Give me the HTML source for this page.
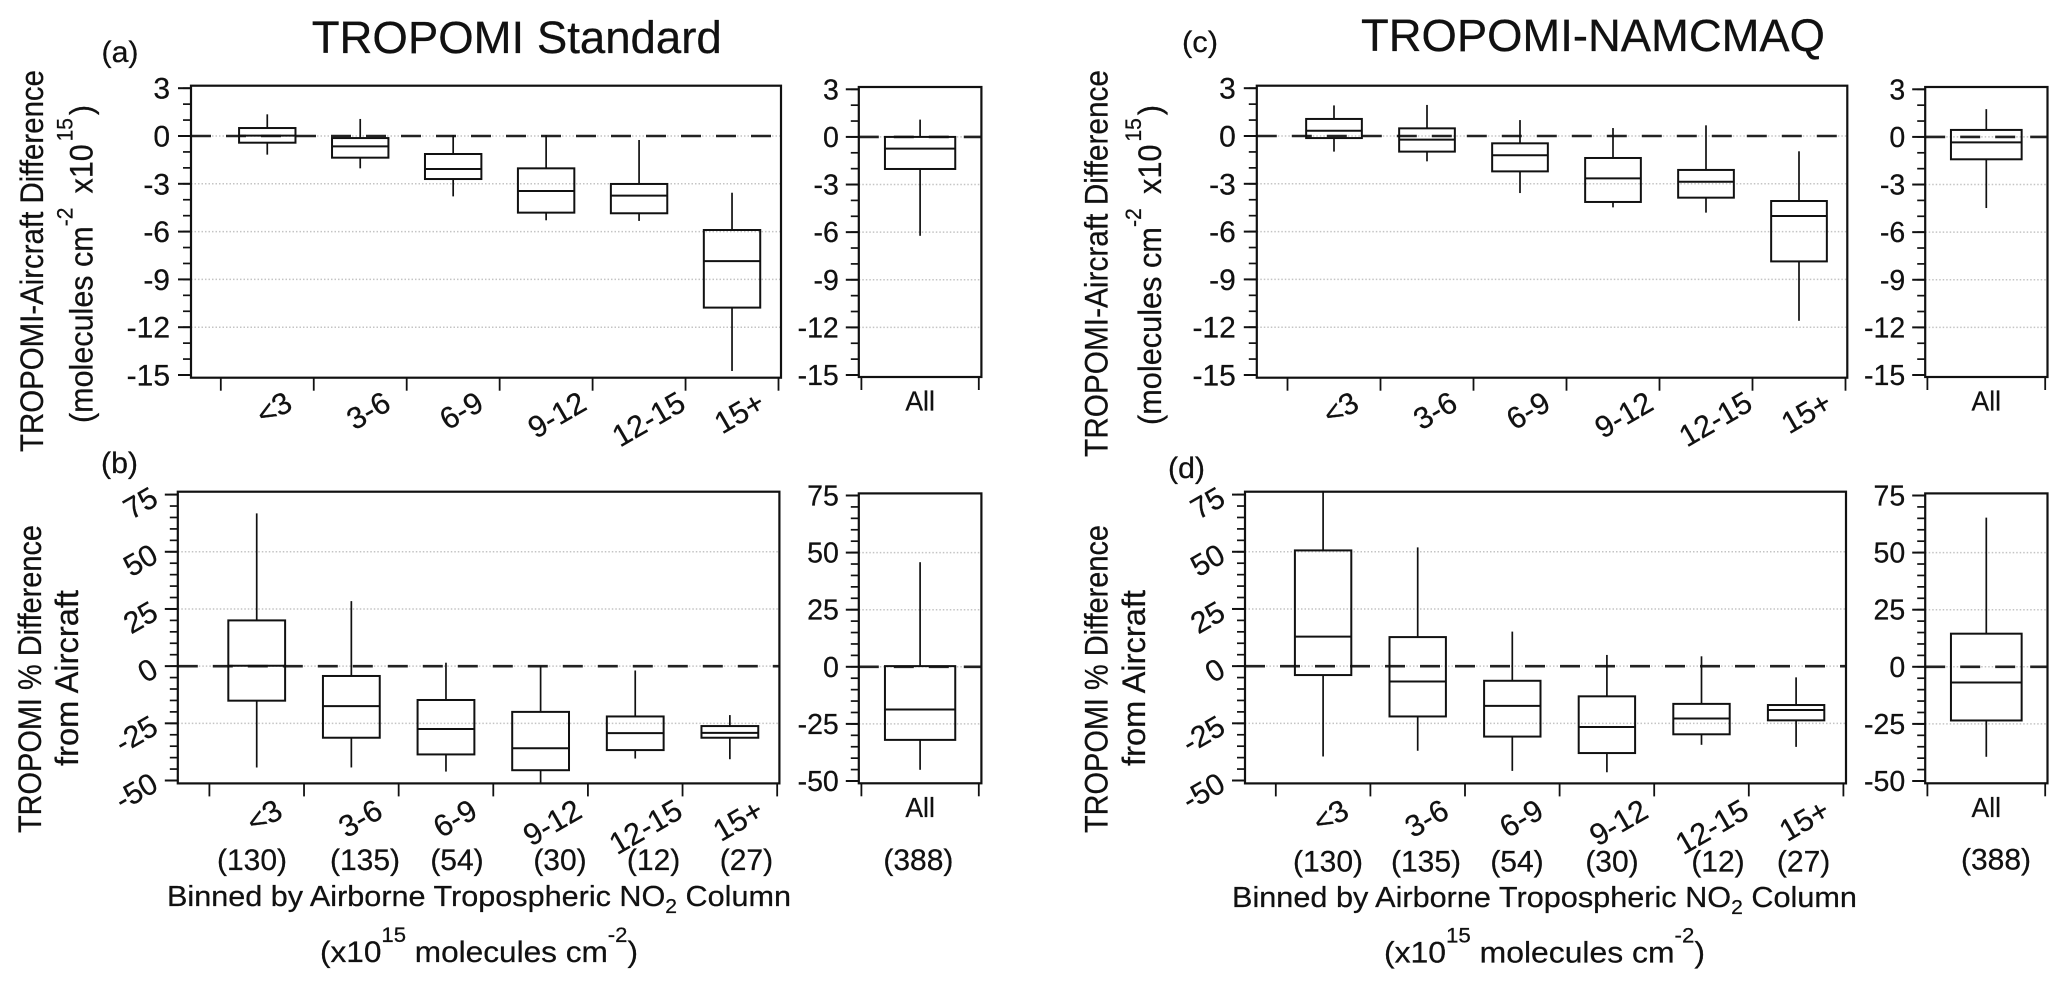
<!DOCTYPE html>
<html lang="en">
<head>
<meta charset="utf-8">
<title>TROPOMI Standard vs TROPOMI-NAMCMAQ box plots</title>
<style>
html,body{margin:0;padding:0;background:#fff;}
svg{display:block;font-family:"Liberation Sans",sans-serif;fill:#111;}
text{stroke:#111;stroke-width:.25px;}
</style>
</head>
<body>
<svg id="chart" xmlns="http://www.w3.org/2000/svg" width="2067" height="986" viewBox="0 0 2067 986">
<rect width="2067" height="986" fill="#fff"/>

<text x="311.7" y="53" font-size="45.5" textLength="410" lengthAdjust="spacingAndGlyphs">TROPOMI Standard</text>
<text x="1361" y="51" font-size="45.5" textLength="464" lengthAdjust="spacingAndGlyphs">TROPOMI-NAMCMAQ</text>

<text x="101.5" y="62" font-size="30" textLength="37" lengthAdjust="spacingAndGlyphs">(a)</text>
<text x="101" y="473" font-size="30" textLength="37" lengthAdjust="spacingAndGlyphs">(b)</text>
<text x="1182" y="52" font-size="30" textLength="36" lengthAdjust="spacingAndGlyphs">(c)</text>
<text x="1168" y="478" font-size="30" textLength="37" lengthAdjust="spacingAndGlyphs">(d)</text>

<text transform="translate(43,452) rotate(-90)" font-size="32" textLength="382" lengthAdjust="spacingAndGlyphs">TROPOMI-Aircraft Difference</text>
<text transform="translate(92.7,423) rotate(-90)" font-size="32" textLength="318" lengthAdjust="spacingAndGlyphs">(molecules cm<tspan dy="-20" font-size="22">-2</tspan><tspan dy="20" dx="6"> x10</tspan><tspan dy="-20" font-size="22" dx="3">15</tspan><tspan dy="20" dx="3">)</tspan></text>
<text transform="translate(41,833) rotate(-90)" font-size="32" textLength="308" lengthAdjust="spacingAndGlyphs">TROPOMI % Difference</text>
<text transform="translate(78,766) rotate(-90)" font-size="32" textLength="176" lengthAdjust="spacingAndGlyphs">from Aircraft</text>

<text transform="translate(1107.5,457) rotate(-90)" font-size="32" textLength="387" lengthAdjust="spacingAndGlyphs">TROPOMI-Aircraft Difference</text>
<text transform="translate(1161,425) rotate(-90)" font-size="32" textLength="320" lengthAdjust="spacingAndGlyphs">(molecules cm<tspan dy="-20" font-size="22">-2</tspan><tspan dy="20" dx="6"> x10</tspan><tspan dy="-20" font-size="22" dx="3">15</tspan><tspan dy="20" dx="3">)</tspan></text>
<text transform="translate(1107.5,833) rotate(-90)" font-size="32" textLength="308" lengthAdjust="spacingAndGlyphs">TROPOMI % Difference</text>
<text transform="translate(1144.8,766) rotate(-90)" font-size="32" textLength="176" lengthAdjust="spacingAndGlyphs">from Aircraft</text>

<g font-size="30" text-anchor="middle">
<text x="252" y="870">(130)</text>
<text x="365" y="870">(135)</text>
<text x="457" y="870">(54)</text>
<text x="560" y="870">(30)</text>
<text x="653.6" y="870">(12)</text>
<text x="746.4" y="870">(27)</text>
<text x="918.4" y="870">(388)</text>
<text x="1328" y="871.5">(130)</text>
<text x="1426" y="871.5">(135)</text>
<text x="1517" y="871.5">(54)</text>
<text x="1612" y="871.5">(30)</text>
<text x="1718" y="871.5">(12)</text>
<text x="1803.6" y="871.5">(27)</text>
<text x="1996" y="869.5">(388)</text>
</g>

<text x="167" y="906" font-size="29" textLength="624" lengthAdjust="spacingAndGlyphs">Binned by Airborne Tropospheric NO<tspan dy="7" font-size="20">2</tspan><tspan dy="-7"> Column</tspan></text>
<text x="320" y="962" font-size="30" textLength="318" lengthAdjust="spacingAndGlyphs">(x10<tspan dy="-20" font-size="21">15</tspan><tspan dy="20"> molecules cm</tspan><tspan dy="-20" font-size="21">-2</tspan><tspan dy="20">)</tspan></text>
<text x="1232" y="907" font-size="29" textLength="625" lengthAdjust="spacingAndGlyphs">Binned by Airborne Tropospheric NO<tspan dy="7" font-size="20">2</tspan><tspan dy="-7"> Column</tspan></text>
<text x="1384" y="962.5" font-size="30" textLength="321" lengthAdjust="spacingAndGlyphs">(x10<tspan dy="-20" font-size="21">15</tspan><tspan dy="20"> molecules cm</tspan><tspan dy="-20" font-size="21">-2</tspan><tspan dy="20">)</tspan></text>
</svg>

<script>
// ---- shared categories and tick labels ----
const binCategories = ['<3', '3-6', '6-9', '9-12', '12-15', '15+'];
const allCategory = ['All'];
const diffTicks = [3, 0, -3, -6, -9, -12, -15];
const pctTicks = [75, 50, 25, 0, -25, -50];

// ---- panel (a): TROPOMI Standard, absolute difference ----
const aHigh = [1.36, 1.07, 0.06, 0.06, -0.25, -3.56];
const aQ3 = [0.5, -0.13, -1.13, -2.03, -3.01, -5.9];
const aMedian = [0.02, -0.65, -2.07, -3.45, -3.74, -7.85];
const aQ1 = [-0.42, -1.36, -2.7, -4.81, -4.85, -10.77];
const aLow = [-1.17, -2.03, -3.79, -5.29, -5.33, -14.75];
const aAllHigh = [1.09];
const aAllQ3 = [0];
const aAllMedian = [-0.74];
const aAllQ1 = [-2.02];
const aAllLow = [-6.23];

// ---- panel (b): TROPOMI Standard, percent difference ----
const bHigh = [66.8, 28.4, 1.5, 0, -1.9, -21.4];
const bQ3 = [20, -4.3, -14.8, -20, -22, -26.2];
const bMedian = [0.15, -17.5, -27.5, -35.9, -29.3, -29.2];
const bQ1 = [-15.1, -31.3, -38.6, -45.5, -36.7, -31.3];
const bLow = [-44.3, -44.3, -46.1, -51.2, -40.4, -40.7];
const bAllHigh = [45.8];
const bAllQ3 = [0.3];
const bAllMedian = [-18.7];
const bAllQ1 = [-32];
const bAllLow = [-45.1];

// ---- panel (c): TROPOMI-NAMCMAQ, absolute difference ----
const cHigh = [1.92, 1.95, 1.0, 0.5, 0.67, -0.96];
const cQ3 = [1.07, 0.48, -0.46, -1.38, -2.13, -4.08];
const cMedian = [0.33, -0.23, -1.21, -2.66, -2.87, -5.02];
const cQ1 = [-0.13, -0.98, -2.22, -4.14, -3.87, -7.87];
const cLow = [-0.98, -1.59, -3.58, -4.48, -4.81, -11.6];
const cAllHigh = [1.75];
const cAllQ3 = [0.44];
const cAllMedian = [-0.34];
const cAllQ1 = [-1.41];
const cAllLow = [-4.48];

// ---- panel (d): TROPOMI-NAMCMAQ, percent difference ----
const dHigh = [76.6, 51.9, 15.1, 4.9, 4.3, -4.9];
const dQ3 = [50.6, 12.7, -6.4, -13.2, -16.5, -17];
const dMedian = [12.9, -6.7, -17.4, -26.6, -22.9, -19.2];
const dQ1 = [-3.9, -22, -30.8, -38, -29.8, -23.7];
const dLow = [-39.5, -37, -45.8, -46.4, -34.4, -35.3];
const dAllHigh = [65.3];
const dAllQ3 = [14.5];
const dAllMedian = [-6.9];
const dAllQ1 = [-23.5];
const dAllLow = [-39.4];

const svg = document.getElementById('chart');
const NS = 'http://www.w3.org/2000/svg';
const INK = '#111';

function make(tag, attrs, parent) {
  const el = document.createElementNS(NS, tag);
  for (const k in attrs) el.setAttribute(k, attrs[k]);
  parent.appendChild(el);
  return el;
}
function line(x1, y1, x2, y2, width, parent, extra) {
  const attrs = { x1: x1, y1: y1, x2: x2, y2: y2, stroke: INK, 'stroke-width': width };
  if (extra) for (const k in extra) attrs[k] = extra[k];
  return make('line', attrs, parent);
}

// geometry: frame box, y axis calibration, x band calibration, label styling
function drawPanel(p, stats) {
  const g = make('g', {}, svg);
  
  

  const ticks = p.ticks;
  const yMax = ticks[0];
  const yMin = ticks[ticks.length - 1];
  const yScale = function (v) { return p.yTop + (yMax - v) * (p.yBottom - p.yTop) / (yMax - yMin); };
  const xBand = function (i) { return p.xFirst + i * p.xStep; };
  const xCenter = function (i) { return xBand(i) + p.xStep / 2; };

  // gridlines
  ticks.forEach(function (t) {
    if (t === yMax || t === yMin) return;
    const gl = line(p.left, yScale(t), p.right, yScale(t), 1.5, g, { stroke: '#c4c4c4', 'stroke-dasharray': '1.5 2' });
    
    
  });

  // zero reference line
  const zero = line(p.left, yScale(0), p.right, yScale(0), 2.6, g, { 'stroke-dasharray': '20 15', stroke: '#222' });
  
  

  // frame
  const frame = make('rect', { x: p.left, y: p.top, width: p.right - p.left, height: p.bottom - p.top, fill: 'none', stroke: INK, 'stroke-width': 2.2 }, g);
  
  

  // minor y ticks
  for (let v = yMax; v >= yMin; v -= p.minorStep) {
    const mt = line(p.left - 8, yScale(v), p.left, yScale(v), 1.7, g);
    
    
  }

  // major y ticks and labels
  ticks.forEach(function (t) {
    const y = yScale(t);
    const tk = line(p.left - 13, y, p.left, y, 2, g);
    
    
    const lx = p.left - p.yLabelGap;
    const attrs = { x: lx, y: y + p.yLabelDrop, 'font-size': p.yFont, 'text-anchor': 'end' };
    if (p.yRotate) attrs.transform = 'rotate(' + (-p.yRotate) + ' ' + lx + ' ' + (y + p.yLabelDrop) + ')';
    const lb = make('text', attrs, g);
    lb.textContent = String(t);
    
    
  });

  // x ticks
  for (let i = 0; i <= p.categories.length; i++) {
    const xt = line(xBand(i), p.bottom, xBand(i), p.bottom + 13, 1.8, g);
    
    
  }

  // boxes
  p.categories.forEach(function (cat, i) {
    const cx = xCenter(i);
    const hw = p.boxWidth / 2;
    const bg = make('g', {}, g);
    
    
    line(cx, yScale(stats.high[i]), cx, yScale(stats.q3[i]), 1.7, bg);
    line(cx, yScale(stats.q1[i]), cx, yScale(stats.low[i]), 1.7, bg);
    make('rect', {
      x: cx - hw, y: yScale(stats.q3[i]), width: p.boxWidth,
      height: yScale(stats.q1[i]) - yScale(stats.q3[i]),
      fill: 'none', stroke: INK, 'stroke-width': 2
    }, bg);
    line(cx - hw, yScale(stats.median[i]), cx + hw, yScale(stats.median[i]), 2, bg);
  });

  // x labels
  const nudge = [-19.5, -14, -14, -4, 2, -11.5];
  p.categories.forEach(function (cat, i) {
    let attrs;
    if (p.categories.length > 1) {
      const lx = xBand(i + 1) + nudge[i];
      const ly = p.bottom + p.xLabelDrop;
      attrs = { x: lx, y: ly, 'font-size': 30.5, 'text-anchor': 'end', transform: 'rotate(-30 ' + lx + ' ' + ly + ')' };
    } else {
      attrs = { x: xCenter(i), y: p.bottom + 33.5, 'font-size': 28, 'text-anchor': 'middle', textLength: 29.5, lengthAdjust: 'spacingAndGlyphs' };
    }
    const lb = make('text', attrs, g);
    lb.textContent = cat;
    
    
  });
}

// main + "All" panels
drawPanel({ id: 'panel-a', categories: binCategories, ticks: diffTicks, minorStep: 1, left: 191, right: 781, top: 85.7, bottom: 377.7, yTop: 88.2, yBottom: 375, xFirst: 220.8, xStep: 92.95, boxWidth: 56.4, yFont: 30, yLabelGap: 21, yLabelDrop: 10.5, yRotate: 0, xLabelDrop: 31 },
  { high: aHigh, q3: aQ3, median: aMedian, q1: aQ1, low: aLow });
drawPanel({ id: 'panel-a-all', categories: allCategory, ticks: diffTicks, minorStep: 1, left: 858.8, right: 981.4, top: 87, bottom: 377, yTop: 89.3, yBottom: 375, xFirst: 861.4, xStep: 117.4, boxWidth: 70.3, yFont: 28.5, yLabelGap: 20, yLabelDrop: 10, yRotate: 0, xLabelDrop: 33 },
  { high: aAllHigh, q3: aAllQ3, median: aAllMedian, q1: aAllQ1, low: aAllLow });

drawPanel({ id: 'panel-b', categories: binCategories, ticks: pctTicks, minorStep: 5, left: 177.8, right: 779.4, top: 491.7, bottom: 783.4, yTop: 494.6, yBottom: 780.5, xFirst: 209.4, xStep: 94.63, boxWidth: 56.8, yFont: 30, yLabelGap: 17.8, yLabelDrop: 9, yRotate: 30, xLabelDrop: 33 },
  { high: bHigh, q3: bQ3, median: bMedian, q1: bQ1, low: bLow });
drawPanel({ id: 'panel-b-all', categories: allCategory, ticks: pctTicks, minorStep: 5, left: 858.8, right: 981.4, top: 493.4, bottom: 783.3, yTop: 495.5, yBottom: 781, xFirst: 861.4, xStep: 117.4, boxWidth: 70.3, yFont: 28.5, yLabelGap: 20, yLabelDrop: 10, yRotate: 0, xLabelDrop: 33 },
  { high: bAllHigh, q3: bAllQ3, median: bAllMedian, q1: bAllQ1, low: bAllLow });

drawPanel({ id: 'panel-c', categories: binCategories, ticks: diffTicks, minorStep: 1, left: 1256.8, right: 1847.3, top: 85.7, bottom: 377.7, yTop: 88.2, yBottom: 375, xFirst: 1287.5, xStep: 93, boxWidth: 55.7, yFont: 30, yLabelGap: 21, yLabelDrop: 10.5, yRotate: 0, xLabelDrop: 31 },
  { high: cHigh, q3: cQ3, median: cMedian, q1: cQ1, low: cLow });
drawPanel({ id: 'panel-c-all', categories: allCategory, ticks: diffTicks, minorStep: 1, left: 1925.2, right: 2047.5, top: 87, bottom: 377, yTop: 89.3, yBottom: 375, xFirst: 1927.4, xStep: 117.8, boxWidth: 70.7, yFont: 28.5, yLabelGap: 20, yLabelDrop: 10, yRotate: 0, xLabelDrop: 33 },
  { high: cAllHigh, q3: cAllQ3, median: cAllMedian, q1: cAllQ1, low: cAllLow });

drawPanel({ id: 'panel-d', categories: binCategories, ticks: pctTicks, minorStep: 5, left: 1245, right: 1846, top: 491.7, bottom: 783.4, yTop: 494.6, yBottom: 780.5, xFirst: 1275.8, xStep: 94.6, boxWidth: 56.4, yFont: 30, yLabelGap: 17.8, yLabelDrop: 9, yRotate: 30, xLabelDrop: 33 },
  { high: dHigh, q3: dQ3, median: dMedian, q1: dQ1, low: dLow });
drawPanel({ id: 'panel-d-all', categories: allCategory, ticks: pctTicks, minorStep: 5, left: 1925.2, right: 2047.5, top: 493.4, bottom: 783.3, yTop: 495.5, yBottom: 781, xFirst: 1927.4, xStep: 117.8, boxWidth: 70.7, yFont: 28.5, yLabelGap: 20, yLabelDrop: 10, yRotate: 0, xLabelDrop: 33 },
  { high: dAllHigh, q3: dAllQ3, median: dAllMedian, q1: dAllQ1, low: dAllLow });
</script>
</body>
</html>
